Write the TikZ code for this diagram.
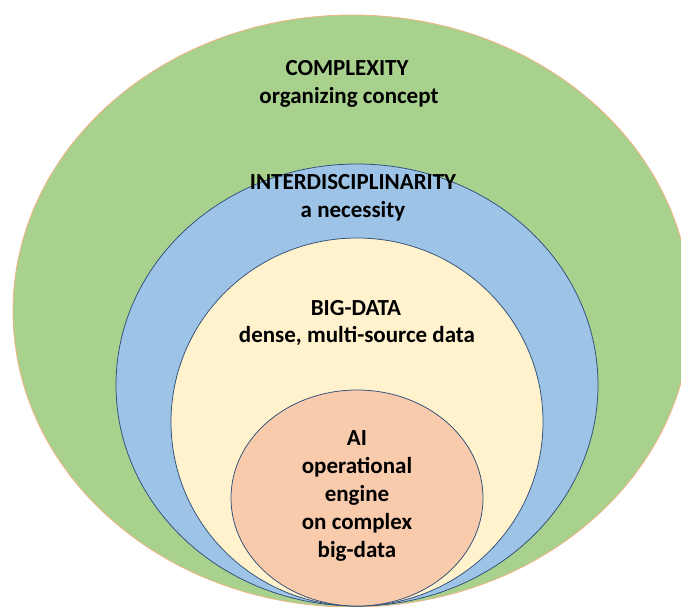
\documentclass[tikz,border=0pt]{standalone}
\usepackage{fontspec}
\setmainfont{Carlito}
\usetikzlibrary{shapes.geometric}

\definecolor{ringgreen}{HTML}{A9D18E}
\definecolor{ringblue}{HTML}{9DC3E6}
\definecolor{ringcream}{HTML}{FFF2CC}
\definecolor{ringpeach}{HTML}{F8CBAD}
\definecolor{rimnavy}{HTML}{2F4E78}
\definecolor{rimorange}{HTML}{F4B183}

\tikzset{
  ring/.style={ellipse, inner sep=0pt, line width=0.75pt, draw=rimnavy},
  caption/.style={anchor=base, inner sep=0pt, font=\fontsize{23}{28}\selectfont\bfseries, text=black}
}

\begin{document}
\begin{tikzpicture}[x=1pt, y=-1pt]
  \useasboundingbox (0,0) rectangle (681,606);
  \clip (0,0) rectangle (681,606);
  \fill[white] (0,0) rectangle (681,606);

  % nested rings, all touching at the bottom
  \node[ring, draw=rimorange, fill=ringgreen, minimum width=678pt, minimum height=592pt] (complexity) at (352,311) {};
  \node[ring, fill=ringblue, minimum width=482pt, minimum height=442pt] (interdisc) at (357,385) {};
  \node[ring, fill=ringcream, minimum width=372pt, minimum height=368pt] (bigdata) at (357,422) {};
  \node[ring, fill=ringpeach, minimum width=252pt, minimum height=216pt] (ai) at (357,498) {};

  % labels
  \node[caption] (cplxA) at (347,75) {COMPLEXITY};
  \node[caption] (cplxB) at (349,103) {organizing concept};

  \node[caption] (intA) at (353,189) {INTERDISCIPLINARITY};
  \node[caption] (intB) at (353,217) {a necessity};

  \node[caption] (bigA) at (356,315) {BIG-DATA};
  \node[caption] (bigB) at (357,342) {dense, multi-source data};

  \node[caption] (aiA) at (357,445) {AI};
  \node[caption] (aiB) at (357,473) {operational};
  \node[caption] (aiC) at (357,501) {engine};
  \node[caption] (aiD) at (357,529) {on complex};
  \node[caption] (aiE) at (357,557) {big-data};
\end{tikzpicture}
\end{document}
